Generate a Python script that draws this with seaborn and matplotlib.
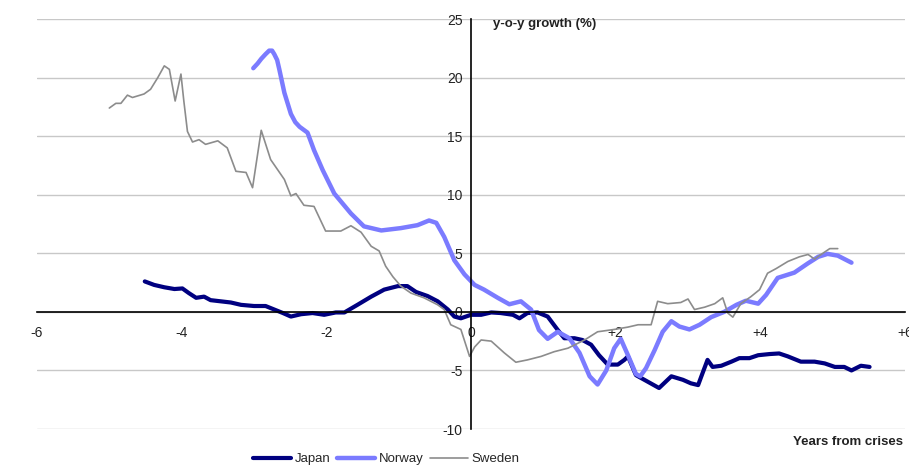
import matplotlib
matplotlib.use("Agg")
import matplotlib.pyplot as plt
import seaborn as sns

# ---------------------------------------------------------------------------------
# Data
# ---------------------------------------------------------------------------------
japan_x = [-4.51, -4.38, -4.24, -4.10, -3.99, -3.90, -3.80, -3.69, -3.60, -3.46,
           -3.32, -3.18, -3.00, -2.84, -2.72, -2.60, -2.49, -2.35, -2.19, -2.03,
           -1.87, -1.75, -1.57, -1.38, -1.20, -1.01, -0.88, -0.76, -0.60, -0.46,
           -0.32, -0.23, -0.14, 0.00, 0.14, 0.28, 0.41, 0.58, 0.67, 0.78,
           0.92, 1.06, 1.20, 1.29, 1.43, 1.54, 1.66, 1.77, 1.89, 2.03,
           2.12, 2.17, 2.28, 2.44, 2.60, 2.77, 2.93, 3.04, 3.14, 3.20,
           3.27, 3.34, 3.46, 3.60, 3.71, 3.85, 3.97, 4.13, 4.26, 4.38,
           4.56, 4.75, 4.89, 5.03, 5.16, 5.26, 5.39, 5.51]
japan_y = [2.6, 2.3, 2.1, 1.95, 2.0, 1.6, 1.2, 1.3, 1.0, 0.9,
           0.8, 0.6, 0.5, 0.5, 0.2, -0.1, -0.4, -0.2, -0.1, -0.25,
           -0.05, -0.05, 0.6, 1.3, 1.9, 2.2, 2.2, 1.7, 1.35, 0.9,
           0.2, -0.4, -0.55, -0.25, -0.25, -0.05, -0.1, -0.25, -0.55, -0.1,
           -0.05, -0.4, -1.55, -2.25, -2.25, -2.4, -2.8, -3.7, -4.5, -4.5,
           -4.1, -3.8, -5.4, -5.95, -6.5, -5.5, -5.8, -6.1, -6.25, -5.25,
           -4.1, -4.7, -4.6, -4.25, -3.95, -3.95, -3.7, -3.6, -3.55, -3.8,
           -4.25, -4.25, -4.4, -4.7, -4.7, -5.0, -4.6, -4.7]

norway_x = [-3.01, -2.95, -2.90, -2.84, -2.79, -2.75, -2.72, -2.68, -2.65, -2.58,
            -2.49, -2.43, -2.37, -2.26, -2.17, -2.05, -1.89, -1.66, -1.48, -1.24,
            -0.97, -0.74, -0.58, -0.48, -0.37, -0.23, -0.09, 0.05, 0.18, 0.37,
            0.53, 0.69, 0.83, 0.94, 1.06, 1.20, 1.36, 1.50, 1.64, 1.75,
            1.87, 1.98, 2.07, 2.17, 2.28, 2.34, 2.42, 2.54, 2.65, 2.77,
            2.88, 3.02, 3.16, 3.32, 3.50, 3.67, 3.80, 3.97, 4.08, 4.24,
            4.47, 4.66, 4.80, 4.93, 5.07, 5.26]
norway_y = [20.8, 21.2, 21.6, 22.0, 22.3, 22.3, 22.0, 21.5, 20.7, 18.7,
            16.9, 16.2, 15.8, 15.3, 13.8, 12.1, 10.1, 8.4, 7.3, 6.95,
            7.15, 7.4, 7.8, 7.6, 6.4, 4.4, 3.2, 2.3, 1.9, 1.2,
            0.65, 0.9, 0.2, -1.55, -2.3, -1.7, -2.25, -3.5, -5.5, -6.2,
            -5.0, -3.1, -2.3, -3.7, -5.3, -5.5, -4.8, -3.25, -1.7, -0.8,
            -1.25, -1.5, -1.1, -0.45, 0.0, 0.6, 0.95, 0.7, 1.45, 2.9,
            3.35, 4.15, 4.7, 4.95, 4.8, 4.2]

sweden_x = [-5.00, -4.91, -4.84, -4.75, -4.68, -4.52, -4.43, -4.33, -4.24, -4.17,
            -4.09, -4.01, -3.97, -3.92, -3.85, -3.76, -3.67, -3.50, -3.37, -3.25,
            -3.11, -3.02, -2.90, -2.77, -2.58, -2.49, -2.42, -2.31, -2.17, -2.01,
            -1.80, -1.66, -1.52, -1.38, -1.27, -1.18, -1.08, -0.97, -0.83, -0.65,
            -0.46, -0.37, -0.28, -0.14, -0.02, 0.05, 0.14, 0.28, 0.46, 0.62,
            0.78, 0.97, 1.15, 1.34, 1.57, 1.75, 1.98, 2.17, 2.31, 2.49,
            2.58, 2.72, 2.90, 3.00, 3.09, 3.23, 3.37, 3.48, 3.55, 3.62,
            3.73, 3.87, 3.99, 4.10, 4.22, 4.38, 4.54, 4.66, 4.75, 4.84,
            4.96, 5.07]
sweden_y = [17.4, 17.8, 17.8, 18.5, 18.3, 18.6, 19.0, 20.0, 21.0, 20.7,
            18.0, 20.3, 18.0, 15.4, 14.5, 14.7, 14.3, 14.6, 14.0, 12.0,
            11.9, 10.6, 15.5, 13.0, 11.3, 9.9, 10.1, 9.1, 9.0, 6.9,
            6.9, 7.35, 6.8, 5.6, 5.2, 3.9, 3.0, 2.2, 1.6, 1.2,
            0.6, 0.2, -1.1, -1.5, -3.8, -3.0, -2.4, -2.5, -3.5, -4.3,
            -4.1, -3.8, -3.4, -3.1, -2.4, -1.7, -1.5, -1.3, -1.1, -1.1,
            0.9, 0.7, 0.8, 1.1, 0.2, 0.4, 0.7, 1.2, -0.1, -0.45,
            0.7, 1.3, 1.9, 3.3, 3.7, 4.3, 4.7, 4.9, 4.5, 4.9,
            5.4, 5.4]

x_ticks = [-6, -4, -2, 0, 2, 4, 6]
x_tick_labels = ["-6", "-4", "-2", "0", "+2", "+4", "+6"]
y_ticks = [-10, -5, 0, 5, 10, 15, 20, 25]

# ---------------------------------------------------------------------------------
# Style
# ---------------------------------------------------------------------------------
sns.set_style("white")
plt.rcParams["font.family"] = ["Liberation Sans", "DejaVu Sans"]
plt.rcParams["axes.unicode_minus"] = False
fs = 10

fig = plt.figure(figsize=(9.09, 4.68), dpi=100)
ax = fig.add_axes([0.0407, 0.0833, 0.9549, 0.8761])

line_kw = dict(estimator=None, sort=False, solid_joinstyle="round", solid_capstyle="round")
sns.lineplot(x=japan_x, y=japan_y, ax=ax, color="#000080", lw=3, label="Japan", **line_kw)
sns.lineplot(x=norway_x, y=norway_y, ax=ax, color="#7b7bff", lw=3.2, label="Norway", **line_kw)
sns.lineplot(x=sweden_x, y=sweden_y, ax=ax, color="#8c8c8c", lw=1.2, label="Sweden", **line_kw)

ax.set_xlim(-6, 6)
ax.set_ylim(-10, 25)
ax.set_xticks(x_ticks)
ax.set_xticklabels(x_tick_labels)
ax.set_yticks(y_ticks)
ax.yaxis.grid(True, color="#c8c8c8", lw=1)
ax.xaxis.grid(False)
ax.set_axisbelow(True)

ax.spines["left"].set_position(("data", 0))
ax.spines["bottom"].set_position(("data", 0))
ax.spines["top"].set_visible(False)
ax.spines["right"].set_visible(False)
for s in ["left", "bottom"]:
    ax.spines[s].set_color("black")
    ax.spines[s].set_linewidth(1.2)
ax.tick_params(axis="both", direction="out", length=4, width=1, color="black",
               labelsize=fs, labelcolor="#222222", pad=2)
ax.tick_params(axis="x", pad=6)
ax.set_xlabel("")
ax.set_ylabel("")

ax.text(0.3, 24.6, "y-o-y growth (%)", fontsize=9.5, fontweight="bold",
        color="#222222", ha="left", va="center")
ax.text(5.97, -11.1, "Years from crises", fontsize=9.5, fontweight="bold",
        color="#222222", ha="right", va="center", clip_on=False)

handles, labels = ax.get_legend_handles_labels()
ax.get_legend().remove()
fig.legend(handles, labels, loc="center", bbox_to_anchor=(0.425, 0.019), ncol=3,
           frameon=False, fontsize=9.5, handlelength=2.9, handletextpad=0.25,
           columnspacing=0.5)

fig.savefig("out.png", dpi=100)
